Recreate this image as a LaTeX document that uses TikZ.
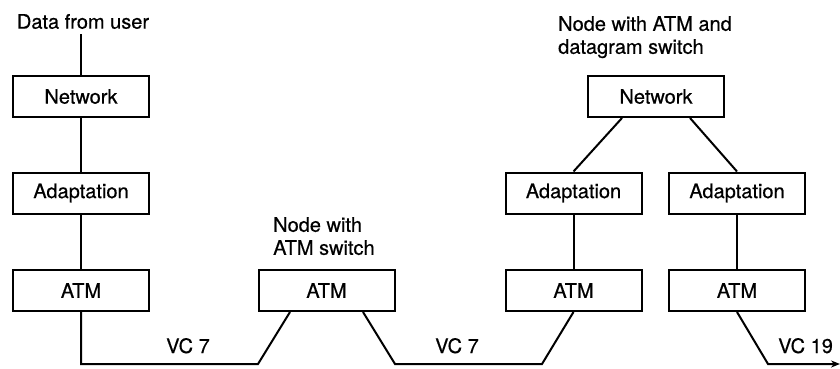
\documentclass[tikz,border=0pt]{standalone}
\usepackage{fontspec}
\setmainfont{TeX Gyre Heros}
\usetikzlibrary{arrows.meta}
\newcommand{\diagfont}{\fontsize{20}{23}\selectfont\addfontfeature{FakeBold=0.5}}
\begin{document}
\begin{tikzpicture}[x=1pt,y=-1pt,
  box/.style={draw, line width=2pt, minimum width=136pt, minimum height=41pt, inner sep=0pt, font=\diagfont},
  lbl/.style={inner sep=0pt, font=\diagfont},
  conn/.style={line width=2pt}]
\useasboundingbox (0,0) rectangle (840,369);
% boxes
\node[box] (n1) at (81,96.5) {Network};
\node[box] (a1) at (81,193) {Adaptation};
\node[box] (t1) at (81,290.5) {ATM};
\node[box] (t2) at (326.5,290.5) {ATM};
\node[box] (n3) at (656,96.5) {Network};
\node[box] (a3) at (573.5,193) {Adaptation};
\node[box] (a4) at (737,193) {Adaptation};
\node[box] (t3) at (573.5,290.5) {ATM};
\node[box] (t4) at (737,290.5) {ATM};
% labels
\node[lbl] (user) at (83,21.5) {Data from user};
\node[lbl, align=left, anchor=north west] (mt) at (273,217) {Node with\\ATM switch};
\node[lbl, align=left, anchor=north west] (rt) at (558,16) {Node with ATM and\\datagram switch};
\node[lbl, anchor=base west] (vc1) at (166,353) {VC 7};
\node[lbl, anchor=base west] (vc2) at (435,353) {VC 7};
\node[lbl, anchor=base west] (vc3) at (778,353) {VC 19};
% coordinates of the bottom line
\coordinate (p1) at (258,364);
\coordinate (p2) at (395,364);
\coordinate (p3) at (542,364);
\coordinate (p4) at (768,364);
\coordinate (pend) at (840,364);
% connectors
\draw[conn] ([yshift=-5pt]n1.north |- user.south) -- (n1.north);
\draw[conn] (n1) -- (a1);
\draw[conn] (a1) -- (t1);
\draw[conn] ([xshift=-34pt]n3.south) -- (a3.north);
\draw[conn] ([xshift=34pt]n3.south) -- (a4.north);
\draw[conn] (a3) -- (t3);
\draw[conn] (a4) -- (t4);
\draw[conn] (t1.south) |- (p1) -- ([xshift=-36.5pt]t2.south);
\draw[conn] ([xshift=36.5pt]t2.south) -- (p2) -- (p3) -- (t3.south);
\draw[conn, -{Stealth[length=9pt,width=7pt]}] (t4.south) -- (p4) -- (pend);
\end{tikzpicture}
\end{document}
